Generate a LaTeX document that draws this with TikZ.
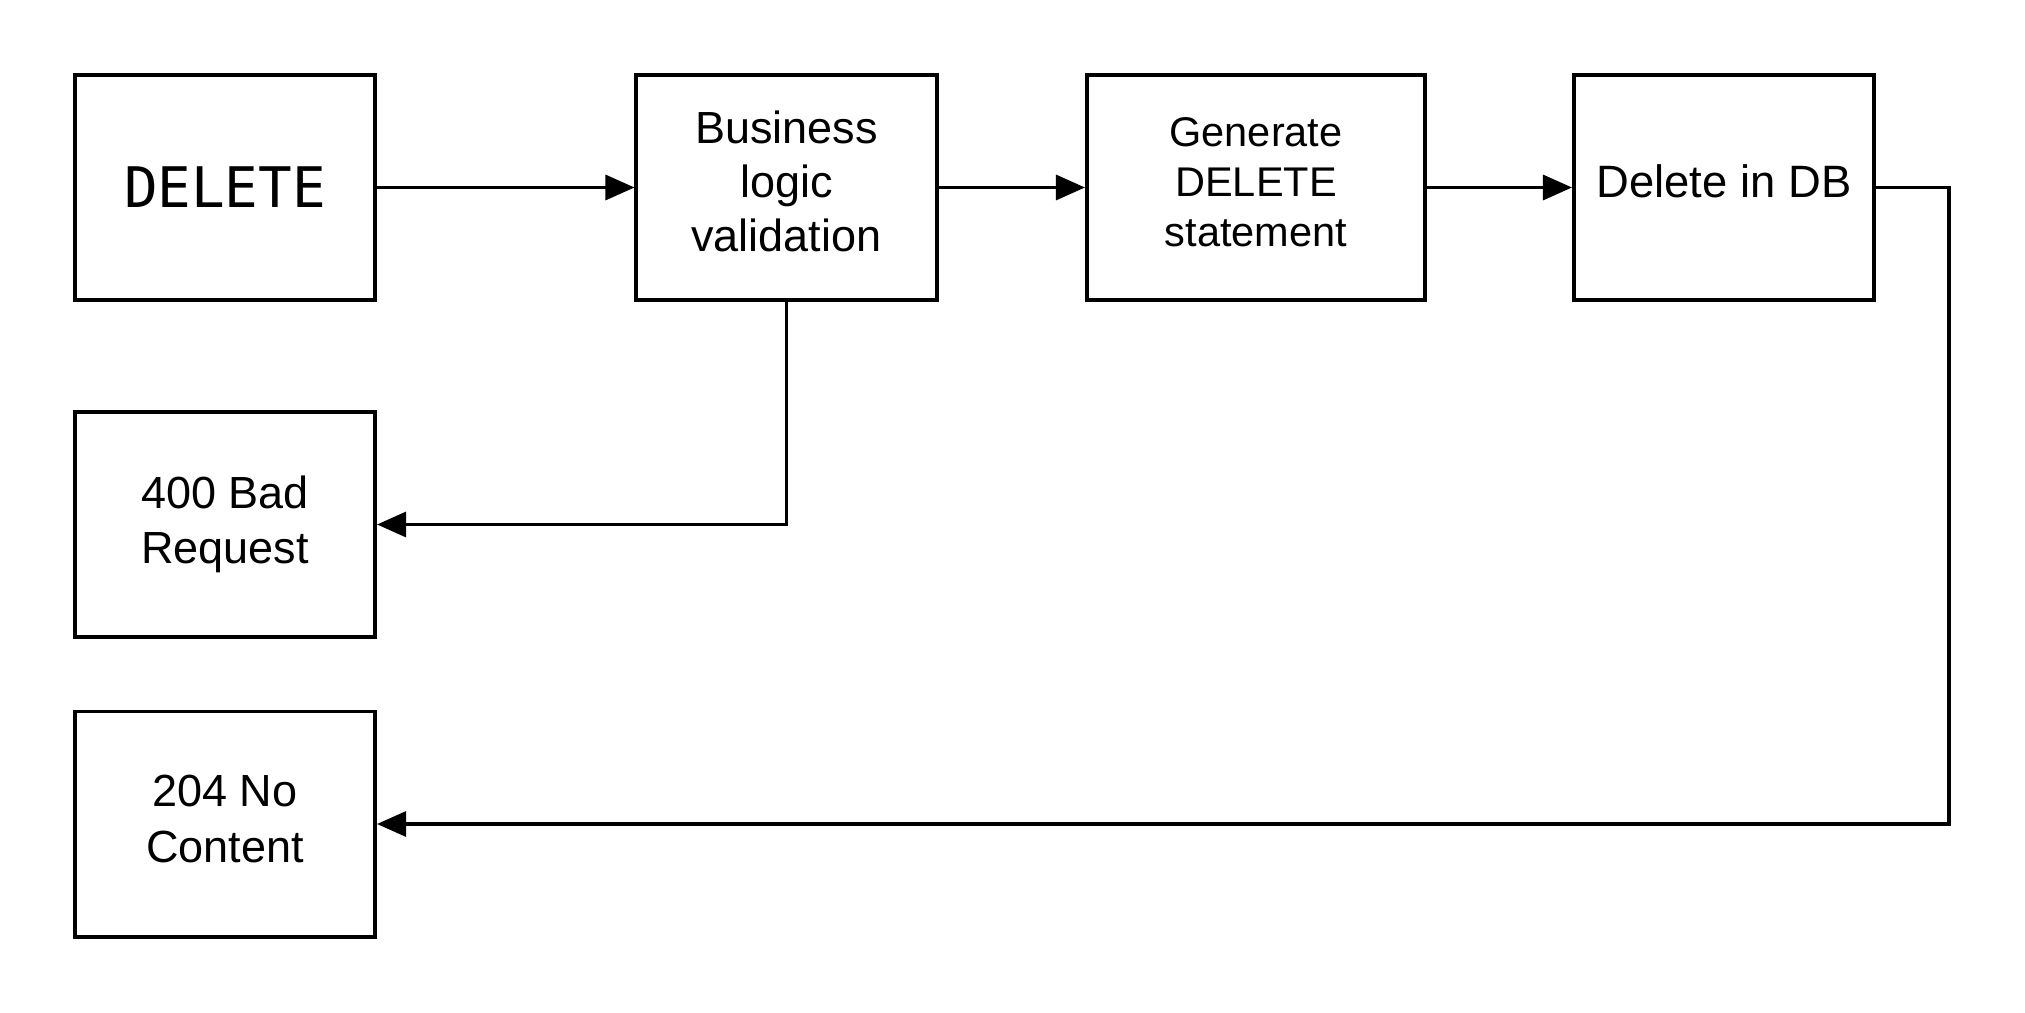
\documentclass[tikz,border=0pt]{standalone}
\usepackage{fontspec}
\setmainfont{Liberation Sans}
\newfontfamily\monof{DejaVu Sans Mono}
\usetikzlibrary{arrows.meta}
\tikzset{
  box/.style={draw, line width=1.1pt, rectangle, minimum height=2.25cm, align=center, inner sep=0pt},
  arr/.style={line width=0.9pt, -{Triangle[length=0.29cm, width=0.25cm]}},
}
\begin{document}
\begin{tikzpicture}[x=0.01cm, y=-0.01cm]
\useasboundingbox (0,0) rectangle (2025,1013);
\node[box, minimum width=3cm, font=\monof\fontsize{15.9}{19}\selectfont] (del) at (225,187.5) {DELETE};
\node[box, minimum width=3cm, text depth=3.7pt, font=\fontsize{12.8}{15.4}\selectfont] (biz) at (786.5,187.5) {Business\\logic\\validation};
\node[box, minimum width=3.38cm, text depth=3.3pt, font=\fontsize{11.8}{14.2}\selectfont] (gen) at (1256,187.5) {Generate\\DELETE\\statement};
\node[box, minimum width=3cm, text depth=3.7pt, font=\fontsize{12.9}{15.4}\selectfont] (db) at (1724,187.5) {Delete in DB};
\node[box, minimum width=3cm, font=\fontsize{12.8}{15.8}\selectfont] (bad) at (225,524.5) {400 Bad\\Request};
\node[box, minimum width=3cm, text depth=3pt, font=\fontsize{12.8}{15.8}\selectfont] (ok) at (225,824) {204 No\\Content};
\coordinate (turn) at (1949,824);
\draw[arr] (del.east) -- (biz.west);
\draw[arr] (biz.east) -- (gen.west);
\draw[arr] (gen.east) -- (db.west);
\draw[arr] (biz.south) |- (bad.east);
\draw[arr] (db.east) -| (turn) -- (ok.east);
\end{tikzpicture}
\end{document}
